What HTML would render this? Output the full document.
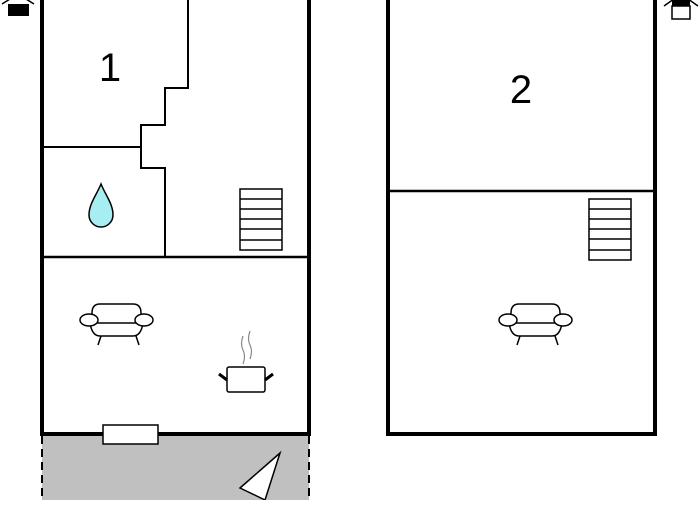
<!DOCTYPE html>
<html><head><style>body{margin:0;background:#fff}</style></head><body>
<svg width="700" height="500" viewBox="0 0 700 500" xmlns="http://www.w3.org/2000/svg" font-family="Liberation Sans, sans-serif">
<rect x="42" y="436" width="267" height="64" fill="#c0c0c0"/>
<line x1="42" y1="436" x2="42" y2="500" stroke="#000" stroke-width="2" stroke-dasharray="8,5"/>
<line x1="309" y1="436" x2="309" y2="500" stroke="#000" stroke-width="2" stroke-dasharray="8,5"/>
<polygon points="280,453 240,488 265,500" fill="#fff" stroke="#000" stroke-width="1.5"/>
<g fill="none" stroke="#000">
<path d="M42,0 V434 H309 V0" stroke-width="4"/>
<path d="M42,257 H309" stroke-width="2.5"/>
<path d="M188,0 V88 H165 V125 H141 V168 H165 V257" stroke-width="2"/>
<path d="M42,147 H141" stroke-width="2"/>
<path d="M388,0 V434 H655 V0" stroke-width="4"/>
<path d="M388,191 H655" stroke-width="2.5"/>
</g>
<rect x="103" y="425" width="55" height="19" fill="#fff" stroke="#000" stroke-width="1.5"/>
<g fill="none" stroke="#000" stroke-width="1.5">
<rect x="240" y="189" width="42" height="61"/>
<path d="M240,199H282M240,209H282M240,219H282M240,229H282M240,240H282"/>
<rect x="589" y="199" width="42" height="61"/>
<path d="M589,209H631M589,219H631M589,229H631M589,239H631M589,250H631"/>
</g>
<path d="M101,184 C96,196 89,204 89,215 A12,12 0 0 0 113,215 C113,204 106,196 101,184Z" fill="#a6eef2" stroke="#000" stroke-width="1.5"/>
<g id="sofa" fill="#fff" stroke="#000" stroke-width="1.5">
<path d="M92,322 V313 Q92,304 100,304 H133 Q141,304 141,313 V322"/>
<path d="M90,323 Q92,336 100,336 H133 Q141,336 143,323"/>
<line x1="92" y1="323" x2="141" y2="323"/>
<ellipse cx="89" cy="320" rx="9" ry="6"/>
<ellipse cx="144" cy="320" rx="9" ry="6"/>
<path d="M101,336 L98,345 M136,336 L139,345" fill="none"/>
</g>
<use href="#sofa" x="419" y="0"/>
<g stroke="#000" stroke-width="1.5" fill="none">
<rect x="227" y="367" width="38" height="25" rx="2" fill="#fff"/>
<path d="M219,374 L227,380 M265,380 L273,374" stroke-width="3"/>
<path d="M243,336 q-3,8 0,14 q3,6 0,14 M250,331 q-3,8 0,14 q3,6 0,14" stroke="#888" stroke-width="1.2"/>
</g>
<text x="110" y="81" font-size="40" text-anchor="middle">1</text>
<text x="521" y="103" font-size="40" text-anchor="middle">2</text>
<rect x="8" y="4" width="21" height="12" fill="#000"/>
<path d="M2,4 L18,-6 L34,4" stroke="#000" fill="none" stroke-width="1.5"/>
<rect x="672" y="6" width="18" height="13" fill="#fff" stroke="#000" stroke-width="1.5"/>
<rect x="672" y="0" width="18" height="6" fill="#000"/>
<path d="M664,6 L681,-6 L698,6" stroke="#000" fill="none" stroke-width="1.5"/>
</svg>
</body></html>
